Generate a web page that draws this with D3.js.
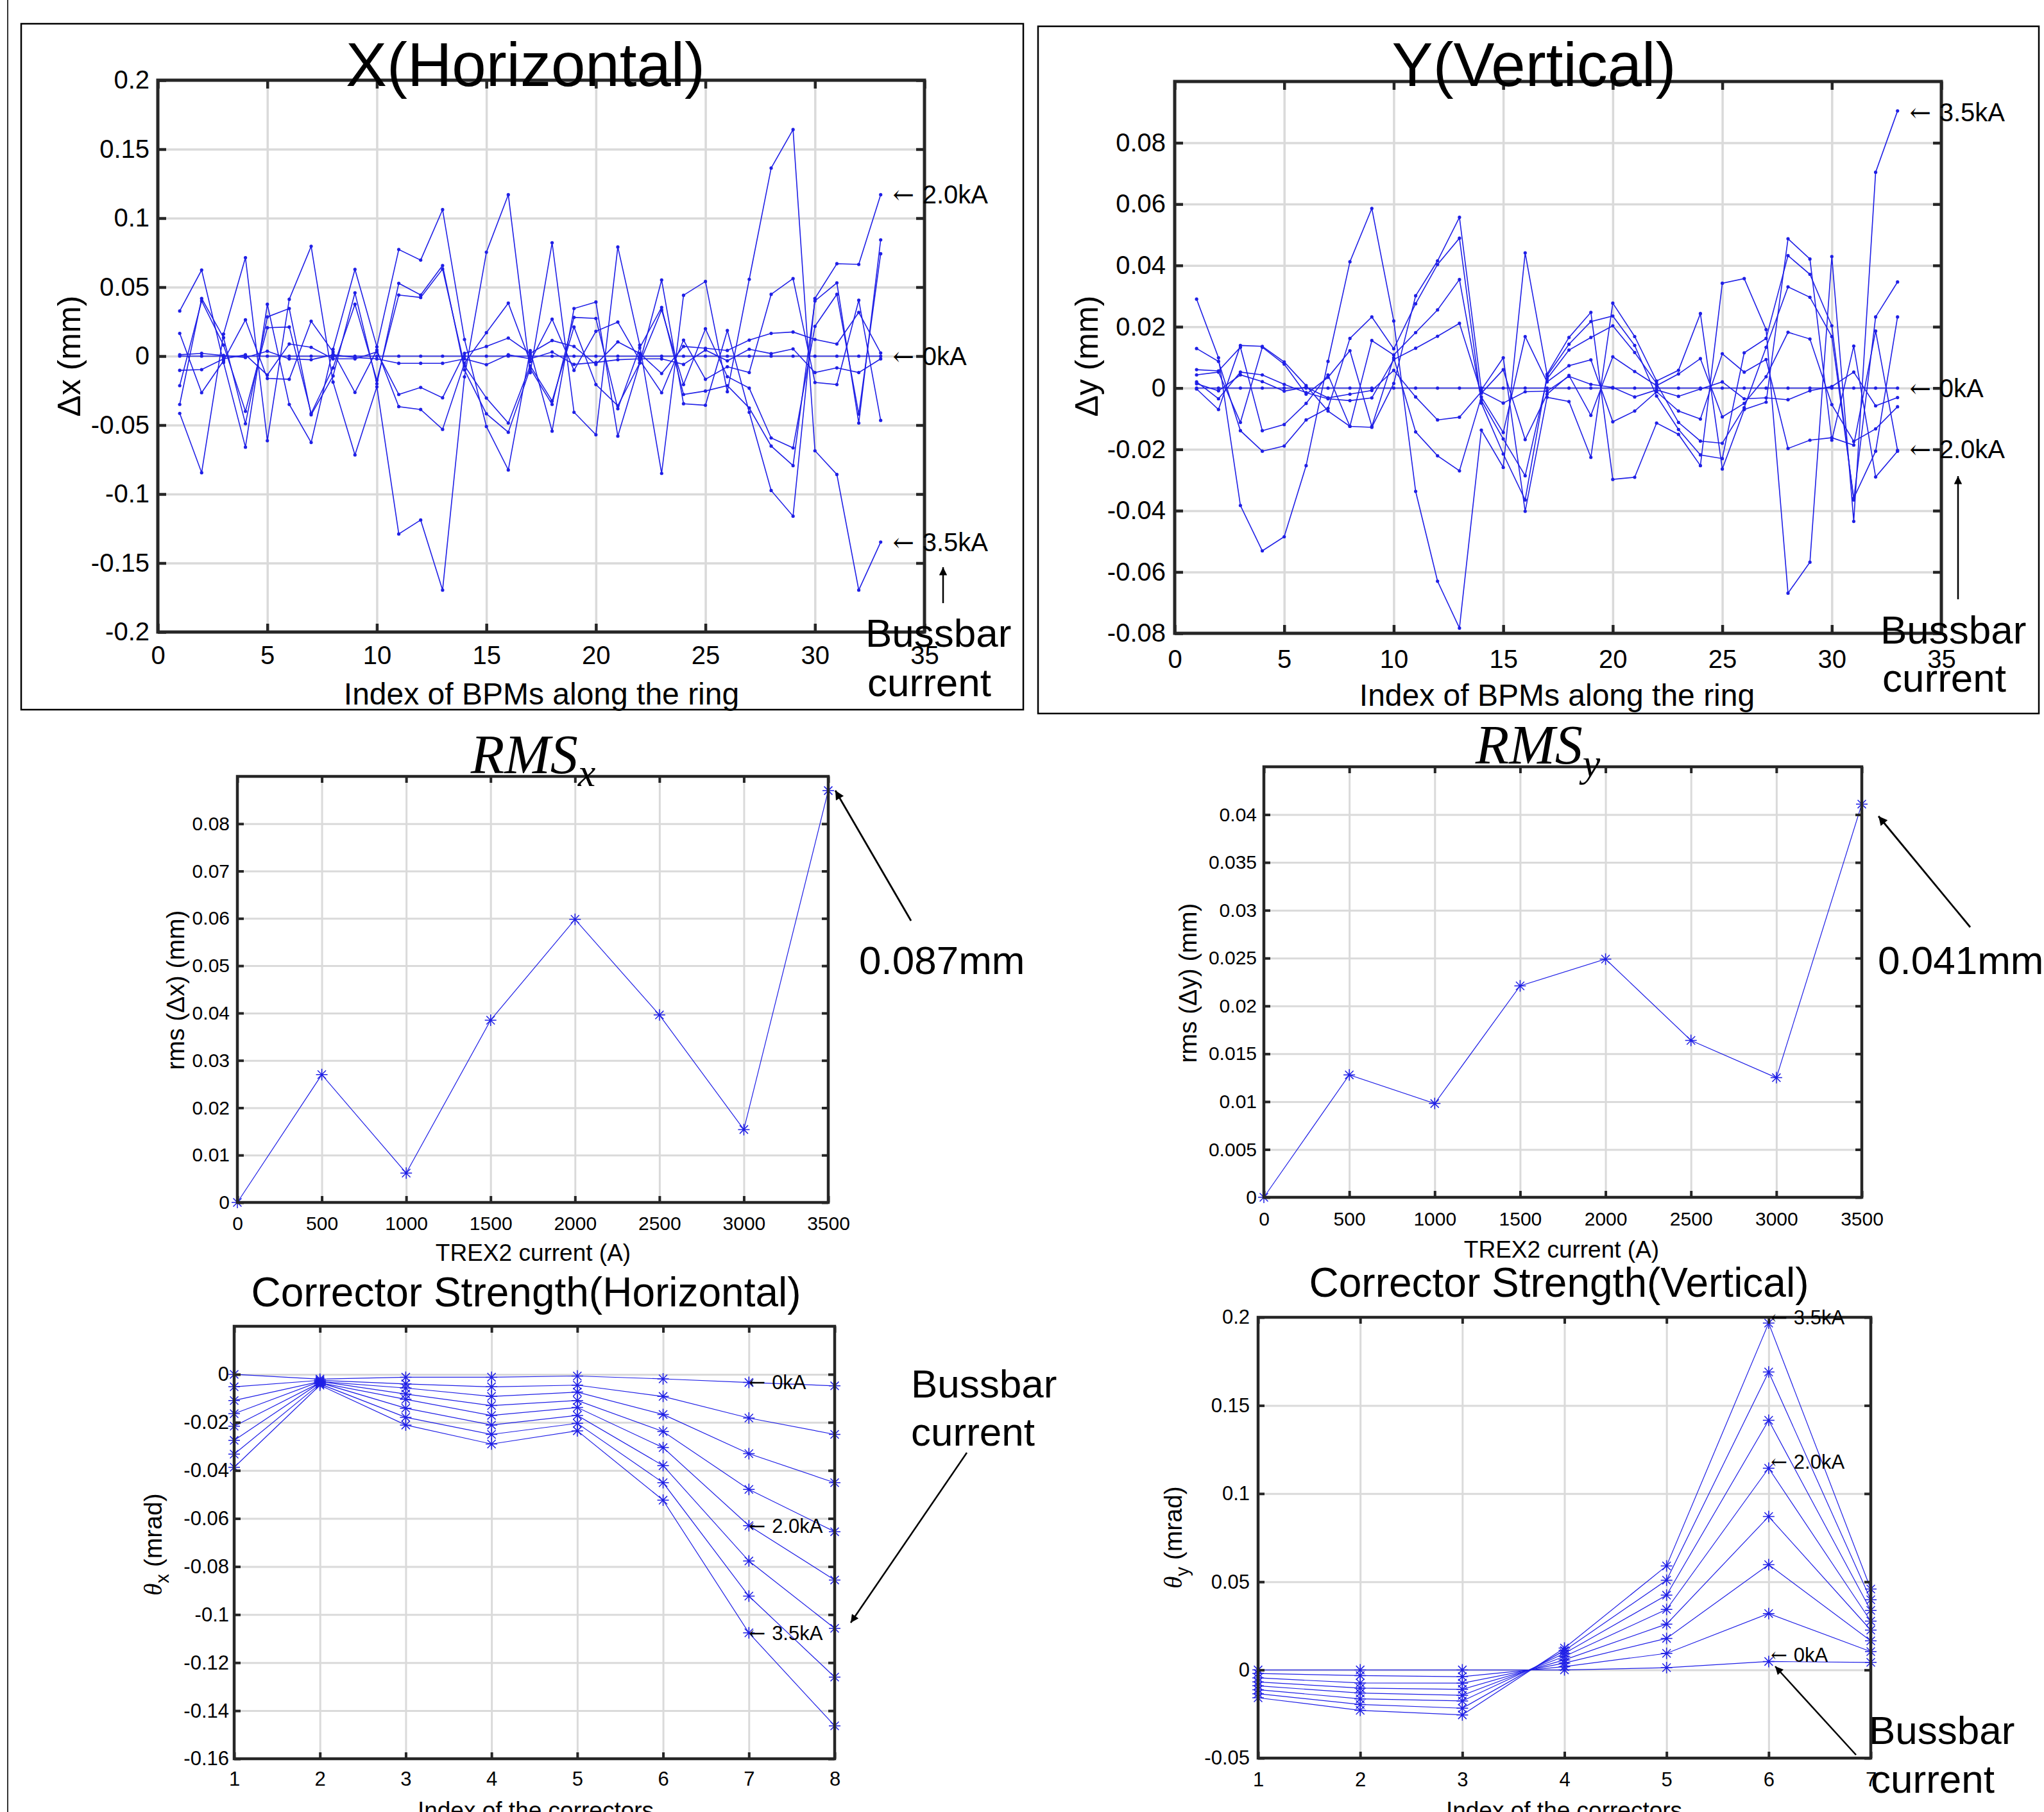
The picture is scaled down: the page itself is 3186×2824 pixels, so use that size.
<!DOCTYPE html>
<html>
<head>
<meta charset="utf-8">
<script src="https://cdn.jsdelivr.net/npm/d3@7"></script>
<style>
  body { margin: 0; background: #fff; }
  svg text { font-family: "Liberation Sans", Arial, sans-serif; fill: #000; }
</style>
</head>
<body>
<svg id="fig" width="3186" height="2824"></svg>
<script>
// ---------- data ----------
var bpm = [1,2,3,4,5,6,7,8,9,10,11,12,13,14,15,16,17,18,19,20,21,22,23,24,25,26,27,28,29,30,31,32,33];
var currents = [0, 500, 1000, 1500, 2000, 2500, 3000, 3500];

// horizontal orbit change (mm) per bussbar current
var dx_0    = [0,0,0,0,0,0,0,0,0,0,0,0,0,0,0,0,0,0,0,0,0,0,0,0,0,0,0,0,0,0,0,0,0];
var dx_500  = [0.0165,-0.0265,-0.0034,0.0263,-0.0162,-0.0168,0.0253,0.003,-0.0263,0.0044,-0.0366,-0.0387,-0.0531,-0.005,0.017,0.0384,-0.004,0.0268,-0.0103,0.018,0.0247,-0.003,-0.0265,0.0116,-0.0168,-0.0077,-0.0119,0.0448,0.0562,-0.0191,-0.0206,0.0405,-0.0466];
var dx_1000 = [0.001,0.002,0.0005,-0.001,0.0036,-0.002,-0.0026,0.001,-0.001,-0.002,-0.0052,-0.0052,-0.0052,-0.002,-0.0062,0.001,-0.002,0.003,-0.006,-0.0046,-0.0026,-0.002,-0.002,-0.006,0.0044,-0.0034,0.005,0.0018,0.0052,-0.0119,-0.0085,-0.0119,-0.002];
var dx_1500 = [-0.0214,0.040,0.008,-0.040,0.0206,0.0211,-0.0415,-0.0085,0.0376,-0.0175,0.0443,0.0425,0.0631,-0.007,-0.0304,-0.0485,-0.007,-0.0325,0.0211,-0.0206,-0.036,-0.005,0.0335,-0.0206,0.0198,-0.0149,-0.0232,-0.0593,-0.0665,0.0216,0.0448,-0.042,0.0742];
var dx_2000 = [0.0327,0.0624,-0.0046,-0.066,0.0376,-0.035,-0.0626,0.005,0.0629,0.0067,0.0773,0.0696,0.1062,0.0121,-0.051,-0.0825,0.004,-0.0544,0.0345,0.0392,-0.058,-0.005,0.0552,-0.0345,-0.0356,0.0186,-0.0407,-0.0974,-0.116,0.0418,0.067,0.0665,0.117];
var dx_2500 = [-0.035,0.0418,0.0134,-0.049,0.0284,0.0345,-0.0425,-0.0144,0.0459,-0.020,0.0528,0.0443,0.0657,-0.010,-0.0418,-0.0552,-0.009,-0.035,0.0281,0.0273,-0.0381,0.006,0.0353,-0.0278,-0.0253,-0.0214,-0.0376,-0.0652,-0.0794,0.040,0.0531,-0.0485,0.0843];
var dx_3000 = [-0.0103,-0.0098,-0.002,0.001,-0.0137,0.0088,0.0064,-0.002,-0.002,0.003,-0.0278,-0.0227,-0.0302,0.002,0.007,0.0131,0.002,0.0113,0.007,-0.006,0.0103,0.002,-0.0126,0.007,0.0057,0.0041,0.0116,0.0165,0.0175,0.0121,0.0088,0.0317,0.0023];
var dx_3500 = [-0.0415,-0.0845,0.016,0.0714,-0.0613,0.0412,0.0796,-0.0188,-0.0716,-0.0222,-0.1289,-0.1188,-0.1696,-0.015,0.0753,0.117,-0.012,0.0822,-0.0407,-0.057,0.0791,0.008,-0.085,0.0441,0.0541,-0.0258,0.0557,0.1363,0.1642,-0.0686,-0.0858,-0.1696,-0.1348];

// vertical orbit change (mm) per bussbar current
var dy_0    = [0,0,0,0,0,0,0,0,0,0,0,0,0,0,0,0,0,0,0,0,0,0,0,0,0,0,0,0,0,0,0,0,0];
var dy_500  = [0.0043,0.0052,-0.0112,0.0133,0.0078,-0.002,0.0035,0.0122,-0.0125,0.0099,-0.0143,-0.0221,-0.027,-0.0029,-0.0145,0.0168,0.002,0.0073,0.0092,-0.011,-0.0075,-0.0012,-0.0075,-0.0101,0.0112,0.0052,0.0093,-0.0197,-0.017,-0.0162,-0.0186,0.0186,-0.0203];
var dy_1000 = [0.0014,-0.0009,0.0043,0.0021,-0.001,0.0003,-0.0032,-0.002,-0.0008,0.0058,-0.0029,-0.0104,-0.0095,-0.0012,-0.0049,-0.0012,-0.001,0.0038,0.0012,0.0002,-0.0029,-0.0006,-0.0027,-0.0003,0.002,-0.0035,-0.0032,-0.0038,-0.0009,0.0005,0.0052,-0.0058,-0.0031];
var dy_1500 = [0.0129,0.0087,-0.0139,-0.0206,-0.0189,-0.0104,-0.0066,0.0162,0.0232,0.0128,0.0275,0.0403,0.0489,-0.0049,-0.0215,-0.0365,0.004,0.0143,0.0217,0.0235,0.0139,-0.0026,-0.0135,-0.0218,-0.023,0.0115,0.0162,0.0432,0.0371,0.0203,-0.0365,0.0232,0.0346];
var dy_2000 = [-0.0003,-0.007,0.0139,0.0136,0.0085,0.0008,-0.0075,-0.0125,-0.0128,0.0015,0.0301,0.0415,0.0557,-0.0006,0.0099,-0.0402,-0.003,-0.0044,-0.0226,0.0277,0.0168,0.0023,0.0058,0.0243,-0.0264,-0.007,-0.0046,0.0487,0.0421,-0.017,0.0137,-0.029,-0.0206];
var dy_2500 = [0.006,0.0056,0.0133,-0.0139,-0.0119,-0.005,0.0043,-0.0125,0.0155,0.0108,0.0181,0.0255,0.0354,-0.004,-0.0166,-0.0286,0.003,0.0124,0.0165,0.0203,0.0116,0.0015,-0.0112,-0.0173,-0.018,-0.0064,0.0133,0.033,0.0296,0.0168,-0.0359,-0.0206,0.0232];
var dy_3000 = [0.002,-0.0035,0.0052,0.0043,0.0012,-0.0015,-0.0035,-0.0041,-0.0032,0.0093,0.013,0.0169,0.0211,-0.0017,0.006,-0.0168,-0.002,0.0041,-0.0089,0.0102,0.0054,0.0008,0.0046,0.0096,-0.0094,-0.005,0.0037,0.0182,0.016,-0.0054,-0.0174,-0.0133,-0.0061];
var dy_3500 = [0.029,0.0099,-0.0383,-0.0531,-0.0485,-0.0253,0.0087,0.0412,0.0586,0.0219,-0.0337,-0.063,-0.0783,-0.0137,-0.0259,0.0441,0.0045,0.0165,0.0247,-0.0298,-0.0291,-0.0114,-0.0151,-0.0253,0.0342,0.0357,0.0191,-0.0669,-0.0568,0.0429,-0.0435,0.0704,0.0904];

// rms of the orbit change (mm)
var rmsX = [0, 0.027, 0.0062, 0.0385, 0.0598, 0.0396, 0.0154, 0.087];
var rmsY = [0, 0.0128, 0.0098, 0.0221, 0.0249, 0.0164, 0.0125, 0.0411];

// corrector strengths (mrad)
var corrH = [1,2,3,4,5,6,7,8];
var thx_0    = [0, -0.002, -0.0012, -0.0012, -0.0007, -0.0019, -0.0034, -0.0048];
var thx_500  = [-0.0052, -0.0025, -0.004, -0.0052, -0.0045, -0.0092, -0.0182, -0.025];
var thx_1000 = [-0.0109, -0.003, -0.0057, -0.0092, -0.0074, -0.0167, -0.033, -0.0451];
var thx_1500 = [-0.0164, -0.003, -0.0082, -0.013, -0.0109, -0.0238, -0.0479, -0.0655];
var thx_2000 = [-0.0216, -0.0035, -0.0104, -0.0171, -0.0138, -0.0305, -0.063, -0.0856];
var thx_2500 = [-0.0275, -0.0035, -0.0141, -0.0211, -0.0171, -0.038, -0.0777, -0.1057];
var thx_3000 = [-0.0332, -0.004, -0.0179, -0.025, -0.0204, -0.0451, -0.0923, -0.126];
var thx_3500 = [-0.0387, -0.0045, -0.0211, -0.029, -0.0235, -0.0524, -0.1076, -0.1463];

var corrV = [1,2,3,4,5,6,7];
var thy_0    = [0, 0, 0, 0, 0.0013, 0.0048, 0.0043];
var thy_500  = [-0.002, -0.0032, -0.0038, 0.0019, 0.0094, 0.032, 0.0104];
var thy_1000 = [-0.0045, -0.0074, -0.0075, 0.0039, 0.0179, 0.0597, 0.0165];
var thy_1500 = [-0.0068, -0.0103, -0.011, 0.0057, 0.026, 0.087, 0.0226];
var thy_2000 = [-0.009, -0.0131, -0.0144, 0.0077, 0.0343, 0.1144, 0.0277];
var thy_2500 = [-0.0112, -0.0164, -0.0176, 0.0094, 0.0424, 0.1416, 0.0338];
var thy_3000 = [-0.0135, -0.0196, -0.0217, 0.011, 0.0509, 0.169, 0.0398];
var thy_3500 = [-0.0158, -0.0229, -0.0255, 0.0124, 0.059, 0.1967, 0.0459];

// tick values
var bpmTicks  = [0,5,10,15,20,25,30,35];
var dxTicks   = [-0.2,-0.15,-0.1,-0.05,0,0.05,0.1,0.15,0.2];
var dyTicks   = [-0.08,-0.06,-0.04,-0.02,0,0.02,0.04,0.06,0.08];
var curTicks  = [0,500,1000,1500,2000,2500,3000,3500];
var rmsXTicks = [0,0.01,0.02,0.03,0.04,0.05,0.06,0.07,0.08];
var rmsYTicks = [0,0.005,0.01,0.015,0.02,0.025,0.03,0.035,0.04];
var thxTicks  = [-0.16,-0.14,-0.12,-0.1,-0.08,-0.06,-0.04,-0.02,0];
var thyTicks  = [-0.05,0,0.05,0.1,0.15,0.2];

var dxSeries  = [dx_0, dx_500, dx_1000, dx_1500, dx_2000, dx_2500, dx_3000, dx_3500];
var dySeries  = [dy_0, dy_500, dy_1000, dy_1500, dy_2000, dy_2500, dy_3000, dy_3500];
var thxSeries = [thx_0, thx_500, thx_1000, thx_1500, thx_2000, thx_2500, thx_3000, thx_3500];
var thySeries = [thy_0, thy_500, thy_1000, thy_1500, thy_2000, thy_2500, thy_3000, thy_3500];

// ---------- drawing ----------
var svg = d3.select("#fig");
var BLUE = "#1f1fe6";
var AX = "#262626";

function fmt(v) { return String(+v.toFixed(4)); }

function starPath(r) {
  var k = r * 0.72;
  return "M" + (-r) + ",0H" + r + "M0," + (-r) + "V" + r +
    "M" + (-k) + "," + (-k) + "L" + k + "," + k + "M" + (-k) + "," + k + "L" + k + "," + (-k);
}

// arrowhead marker
svg.append("defs").append("marker")
  .attr("id", "head")
  .attr("viewBox", "0 0 10 10")
  .attr("refX", 10).attr("refY", 5)
  .attr("markerWidth", 7).attr("markerHeight", 5)
  .attr("markerUnits", "strokeWidth")
  .attr("orient", "auto")
  .append("path").attr("d", "M0,0L10,5L0,10Z").attr("fill", "#000");

function makeAxes(o) {
  var x = d3.scaleLinear().domain(o.xd).range([o.L, o.R]);
  var y = d3.scaleLinear().domain(o.yd).range([o.B, o.T]);
  var g = svg.append("g");

  // grid
  g.append("g")
    .attr("transform", "translate(0," + o.B + ")")
    .call(d3.axisBottom(x).tickValues(o.xt).tickSize(-(o.B - o.T)).tickFormat(""))
    .call(function (s) {
      s.select(".domain").remove();
      s.selectAll("line").attr("stroke", "#dadada").attr("stroke-width", o.gw);
    });
  g.append("g")
    .attr("transform", "translate(" + o.L + ",0)")
    .call(d3.axisLeft(y).tickValues(o.yt).tickSize(-(o.R - o.L)).tickFormat(""))
    .call(function (s) {
      s.select(".domain").remove();
      s.selectAll("line").attr("stroke", "#dadada").attr("stroke-width", o.gw);
    });

  var data = svg.append("g");
  return { x: x, y: y, o: o, data: data };
}

function finishAxes(p) {
  var o = p.o, x = p.x, y = p.y;
  var g = svg.append("g");
  function style(s, labels) {
    s.select(".domain").remove();
    s.selectAll("line").attr("stroke", AX).attr("stroke-width", o.tw);
    s.selectAll("text").attr("font-size", o.fs).attr("fill", AX)
      .style("font-family", "'Liberation Sans', Arial, sans-serif");
    if (!labels) s.selectAll("text").remove();
  }
  g.append("g").attr("transform", "translate(0," + o.B + ")")
    .call(d3.axisBottom(x).tickValues(o.xt).tickSize(-o.tl).tickPadding(o.xp).tickFormat(fmt))
    .call(function (s) { style(s, true); });
  g.append("g").attr("transform", "translate(0," + o.T + ")")
    .call(d3.axisTop(x).tickValues(o.xt).tickSize(-o.tl))
    .call(function (s) { style(s, false); });
  g.append("g").attr("transform", "translate(" + o.L + ",0)")
    .call(d3.axisLeft(y).tickValues(o.yt).tickSize(-o.tl).tickPadding(o.yp).tickFormat(fmt))
    .call(function (s) { style(s, true); });
  g.append("g").attr("transform", "translate(" + o.R + ",0)")
    .call(d3.axisRight(y).tickValues(o.yt).tickSize(-o.tl))
    .call(function (s) { style(s, false); });
  g.append("rect")
    .attr("x", o.L).attr("y", o.T)
    .attr("width", o.R - o.L).attr("height", o.B - o.T)
    .attr("fill", "none").attr("stroke", AX).attr("stroke-width", o.fw);
}

function drawSeries(p, xs, series, kind, lw) {
  var line = d3.line().x(function (d, i) { return p.x(xs[i]); }).y(function (d) { return p.y(d); });
  series.forEach(function (s) {
    p.data.append("path").datum(s)
      .attr("d", line).attr("fill", "none")
      .attr("stroke", BLUE).attr("stroke-width", lw);
    if (kind === "dot") {
      p.data.selectAll(null).data(s).enter().append("circle")
        .attr("cx", function (d, i) { return p.x(xs[i]); })
        .attr("cy", function (d) { return p.y(d); })
        .attr("r", 2.6).attr("fill", BLUE);
    } else {
      p.data.selectAll(null).data(s).enter().append("path")
        .attr("transform", function (d, i) { return "translate(" + p.x(xs[i]) + "," + p.y(d) + ")"; })
        .attr("d", starPath(kind)).attr("fill", "none")
        .attr("stroke", BLUE).attr("stroke-width", 1.5);
    }
  });
}

function text(str, x, y, size, anchor) {
  return svg.append("text").attr("x", x).attr("y", y)
    .attr("font-size", size).attr("text-anchor", anchor || "start").text(str);
}

// MATLAB style "\leftarrow label" annotations placed in data units
function label(p, items, size) {
  items.forEach(function (it) {
    var t = svg.append("text")
      .attr("x", p.x(it[1])).attr("y", p.y(it[2]))
      .attr("dy", "0.35em").attr("font-size", size).attr("fill", "#111");
    t.append("tspan").style("font-family", "'DejaVu Serif', serif").attr("font-weight", 200).text("\u2190 ");
    t.append("tspan").text(it[0]);
  });
}

function ylabel(x, y, size) {
  return svg.append("text")
    .attr("transform", "translate(" + x + "," + y + ") rotate(-90)")
    .attr("text-anchor", "middle").attr("dy", "0.35em")
    .attr("font-size", size).attr("fill", AX);
}

function arrow(x1, y1, x2, y2, w) {
  svg.append("line").attr("x1", x1).attr("y1", y1).attr("x2", x2).attr("y2", y2)
    .attr("stroke", "#000").attr("stroke-width", w).attr("marker-end", "url(#head)");
}

// outer left rule and panel frames
svg.append("line").attr("x1", 12).attr("y1", 0).attr("x2", 12).attr("y2", 2824)
  .attr("stroke", "#333").attr("stroke-width", 2);
svg.append("rect").attr("x", 33).attr("y", 37).attr("width", 1562).attr("height", 1069)
  .attr("fill", "none").attr("stroke", "#000").attr("stroke-width", 2.5);
svg.append("rect").attr("x", 1618).attr("y", 41).attr("width", 1560).attr("height", 1071)
  .attr("fill", "none").attr("stroke", "#000").attr("stroke-width", 2.5);

// ---- panel 1: X(Horizontal)
var p1 = makeAxes({ L: 246, R: 1441, T: 125, B: 985, xd: [0, 35], yd: [-0.2, 0.2],
  xt: bpmTicks, yt: dxTicks, fs: 40, tl: 13, tw: 4.5, fw: 5, gw: 3.5, xp: 22, yp: 13 });
drawSeries(p1, bpm, dxSeries, "dot", 1.6);
finishAxes(p1);
text("X(Horizontal)", 819, 134, 96, "middle");
text("Index of BPMs along the ring", 844, 1098, 48, "middle").attr("fill", AX);
ylabel(107, 555, 50).text("\u0394x (mm)");
label(p1, [["2.0kA", 33.55, 0.117], ["0kA", 33.55, 0], ["3.5kA", 33.55, -0.135]], 40);
arrow(1470, 940, 1470, 884, 2.5);
text("Bussbar", 1349, 1008, 62);
text("current", 1352, 1085, 62);

// ---- panel 2: Y(Vertical)
var p2 = makeAxes({ L: 1831, R: 3026, T: 127, B: 987, xd: [0, 35], yd: [-0.08, 0.1],
  xt: bpmTicks, yt: dyTicks, fs: 40, tl: 13, tw: 4.5, fw: 5, gw: 3.5, xp: 26, yp: 14 });
drawSeries(p2, bpm, dySeries, "dot", 1.6);
finishAxes(p2);
text("Y(Vertical)", 2391, 134, 96, "middle");
text("Index of BPMs along the ring", 2427, 1100, 48, "middle").attr("fill", AX);
ylabel(1693, 555, 50).text("\u0394y (mm)");
label(p2, [["3.5kA", 33.55, 0.09], ["0kA", 33.55, 0], ["2.0kA", 33.55, -0.02]], 40);
arrow(3052, 934, 3052, 742, 2.5);
text("Bussbar", 2931, 1003, 62);
text("current", 2934, 1078, 62);

// ---- panel 3: RMS x
var p3 = makeAxes({ L: 370, R: 1291, T: 1210, B: 1874, xd: [0, 3500], yd: [0, 0.09],
  xt: curTicks, yt: rmsXTicks, fs: 30, tl: 10, tw: 4, fw: 4.5, gw: 3, xp: 22, yp: 12 });
drawSeries(p3, currents, [rmsX], 9, 1.2);
finishAxes(p3);
var t3 = text("", 831, 1205, 86, "middle").style("font-family", "'Liberation Serif', serif").attr("font-style", "italic");
t3.append("tspan").text("RMS");
t3.append("tspan").attr("dy", 20).attr("font-size", 62).text("x");
text("TREX2 current (A)", 831, 1965, 37, "middle").attr("fill", AX);
ylabel(273, 1543, 39).text("rms (\u0394x) (mm)");
arrow(1420, 1435, 1302, 1232, 2.8);
text("0.087mm", 1339, 1518, 62);

// ---- panel 4: RMS y
var p4 = makeAxes({ L: 1970, R: 2902, T: 1195, B: 1866, xd: [0, 3500], yd: [0, 0.045],
  xt: curTicks, yt: rmsYTicks, fs: 30, tl: 10, tw: 4, fw: 4.5, gw: 3, xp: 23, yp: 11 });
drawSeries(p4, currents, [rmsY], 9, 1.2);
finishAxes(p4);
var t4 = text("", 2397, 1190, 86, "middle").style("font-family", "'Liberation Serif', serif").attr("font-style", "italic");
t4.append("tspan").text("RMS");
t4.append("tspan").attr("dy", 20).attr("font-size", 62).text("y");
text("TREX2 current (A)", 2434, 1960, 37, "middle").attr("fill", AX);
ylabel(1851, 1532, 39).text("rms (\u0394y) (mm)");
arrow(3071, 1445, 2928, 1272, 2.8);
text("0.041mm", 2927, 1518, 62);

// ---- panel 5: Corrector Strength(Horizontal)
var p5 = makeAxes({ L: 365, R: 1301, T: 2067, B: 2741, xd: [1, 8], yd: [-0.16, 0.02],
  xt: corrH, yt: thxTicks, fs: 31, tl: 10, tw: 4, fw: 4.5, gw: 3, xp: 20, yp: 8 });
drawSeries(p5, corrH, thxSeries, 9, 1.2);
finishAxes(p5);
text("Corrector Strength(Horizontal)", 820, 2036, 64, "middle");
text("Index of the correctors", 835, 2834, 37, "middle").attr("fill", AX);
var y5 = ylabel(238, 2407, 39);
y5.append("tspan").style("font-family", "'Liberation Serif', serif").attr("font-style", "italic").text("\u03b8");
y5.append("tspan").attr("dy", 11).attr("font-size", 29).text("x");
y5.append("tspan").attr("dy", -11).text(" (mrad)");
label(p5, [["0kA", 7, -0.0034], ["2.0kA", 7, -0.063], ["3.5kA", 7, -0.1076]], 31);
text("Bussbar", 1420, 2178, 62);
text("current", 1420, 2253, 62);
arrow(1507, 2264, 1326, 2529, 2.5);

// ---- panel 6: Corrector Strength(Vertical)
var p6 = makeAxes({ L: 1961, R: 2916, T: 2053, B: 2740, xd: [1, 7], yd: [-0.05, 0.2],
  xt: corrV, yt: thyTicks, fs: 31, tl: 10, tw: 4, fw: 4.5, gw: 3, xp: 22, yp: 13 });
drawSeries(p6, corrV, thySeries, 9, 1.2);
finishAxes(p6);
text("Corrector Strength(Vertical)", 2430, 2021, 64, "middle");
text("Index of the correctors", 2438, 2834, 37, "middle").attr("fill", AX);
var y6 = ylabel(1828, 2396, 39);
y6.append("tspan").style("font-family", "'Liberation Serif', serif").attr("font-style", "italic").text("\u03b8");
y6.append("tspan").attr("dy", 11).attr("font-size", 29).text("y");
y6.append("tspan").attr("dy", -11).text(" (mrad)");
label(p6, [["3.5kA", 6.02, 0.2], ["2.0kA", 6.02, 0.118], ["0kA", 6.02, 0.0085]], 31);
arrow(2893, 2735, 2767, 2597, 2.5);
text("Bussbar", 2913, 2718, 62);
text("current", 2916, 2794, 62);
</script>
</body>
</html>
